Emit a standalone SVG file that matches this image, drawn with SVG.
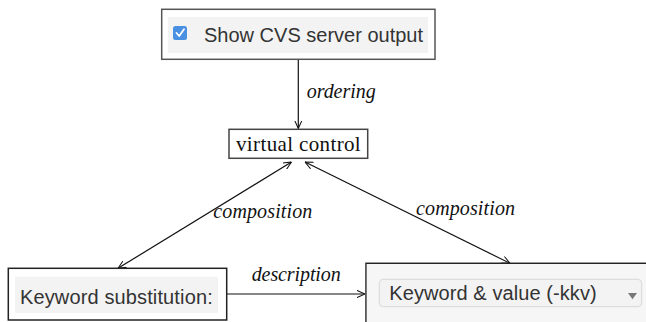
<svg xmlns="http://www.w3.org/2000/svg" width="646" height="322" viewBox="0 0 646 322">
<defs>
<style>
.lbl{font-family:"Liberation Serif","DejaVu Serif",serif;font-style:italic;font-size:20px;fill:#111}
.ui{font-family:"Liberation Sans",Arial,sans-serif;font-size:20px;fill:#333}
.edge{stroke:#111;stroke-width:1.2;fill:none}
.frame{fill:#fff;stroke:#222;stroke-width:1.5}
</style>
<marker id="ah" viewBox="0 0 10 10" refX="10" refY="5" markerWidth="8" markerHeight="8" markerUnits="userSpaceOnUse" orient="auto-start-reverse">
<path d="M0,0.5 L10,5 L0,9.5" fill="none" stroke="#111" stroke-width="1.3"/>
</marker>
</defs>
<rect width="646" height="322" fill="#fff"/>
<g id="connectors">
<line class="edge" x1="298.3" y1="59.5" x2="298.3" y2="128.5" marker-end="url(#ah)"/>
<line class="edge" x1="291.5" y1="162" x2="118" y2="268.3" marker-start="url(#ah)" marker-end="url(#ah)"/>
<line class="edge" x1="305" y1="162" x2="510" y2="263.3" marker-start="url(#ah)" marker-end="url(#ah)"/>
<line class="edge" x1="227" y1="294" x2="365" y2="294" marker-end="url(#ah)"/>
<text class="lbl" x="306.7" y="98" textLength="69">ordering</text>
<text class="lbl" x="213.3" y="218.3" textLength="99">composition</text>
<text class="lbl" x="416" y="215" textLength="99">composition</text>
<text class="lbl" x="251.7" y="281" textLength="89">description</text>
</g>
<g id="show-cvs">
<rect x="161.7" y="9.3" width="273.3" height="50" fill="#fff" stroke="#555" stroke-width="1.5"/>
<rect x="168" y="17" width="260" height="36" fill="#f3f3f3"/>
<rect x="173" y="26" width="14" height="14" rx="2.5" fill="#4a90e2"/>
<path d="M176.5,33 L179.2,36 L184,29.2" fill="none" stroke="#fff" stroke-width="1.8" stroke-linecap="round" stroke-linejoin="round"/>
<text class="ui" x="204" y="42" textLength="219">Show CVS server output</text>
</g>
<g id="virtual-control">
<rect x="229" y="129.3" width="138.7" height="29" fill="#fff" stroke="#444" stroke-width="1.5"/>
<text x="236" y="151" textLength="124.7" style="font-family:'Liberation Serif','DejaVu Serif',serif;font-size:21px;fill:#111">virtual control</text>
</g>
<g id="keyword-substitution">
<rect class="frame" x="8.3" y="268.3" width="218.4" height="51.7"/>
<rect x="15" y="276.7" width="203" height="36.3" fill="#f3f3f3"/>
<text class="ui" x="20" y="304" textLength="192.7">Keyword substitution:</text>
</g>
<g id="keyword-value">
<rect class="frame" x="366" y="263.3" width="290" height="70"/>
<rect x="366.8" y="264.1" width="280" height="58" fill="#f6f6f6"/>
<rect x="379.3" y="279.3" width="262.4" height="27.4" rx="4" fill="#f3f3f3" stroke="#d8d8d8" stroke-width="1"/>
<text class="ui" x="389.3" y="300" textLength="207.4">Keyword &amp; value (-kkv)</text>
<path d="M628,293 L637,293 L632.5,299.3 Z" fill="#777"/>
</g>
</svg>
